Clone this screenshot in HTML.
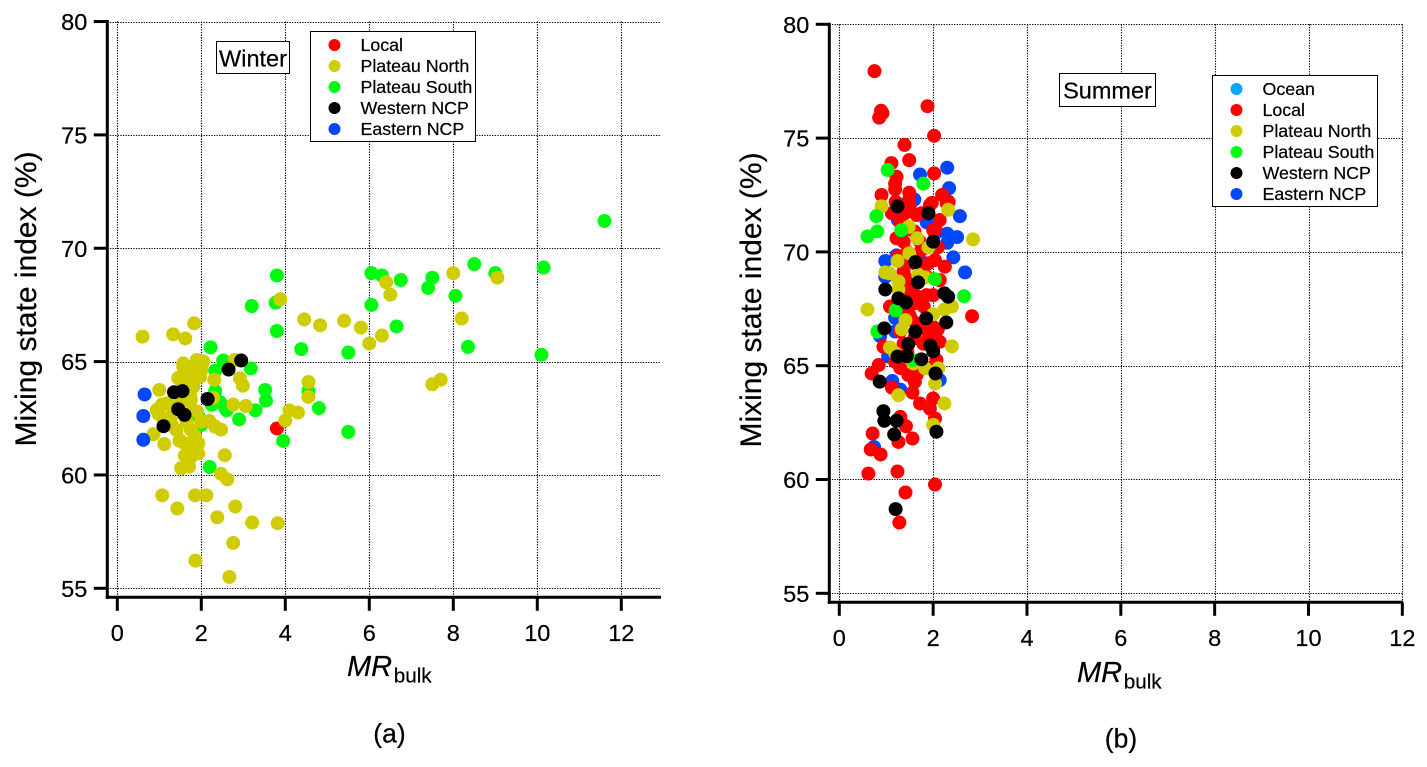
<!DOCTYPE html>
<html lang="en">
<head>
<meta charset="utf-8">
<title>Mixing state index vs MR bulk</title>
<style>
html,body{margin:0;padding:0;background:#fff;width:1427px;height:767px;overflow:hidden}
svg{display:block}
text{font-family:"Liberation Sans",Arial,sans-serif;fill:#000;stroke:#000;stroke-width:.22px}
</style>
</head>
<body>
<svg id="chart" width="1427" height="767" viewBox="0 0 1427 767" xmlns="http://www.w3.org/2000/svg"></svg>
<script>
const xTickLabels = [0, 2, 4, 6, 8, 10, 12];
const yTickLabels = [55, 60, 65, 70, 75, 80];

const winterLocalX = [3.8];
const winterLocalY = [62.05];
const winterSouthX = [11.6,10.15,10.1,9.0,8.5,8.05,8.35,7.5,7.4,6.75,6.3,6.05,6.05,6.65,5.5,5.5,4.38,4.8,4.55,3.95,3.8,3.77,3.8,3.2,2.22,2.52,2.33,3.18,3.52,3.54,2.33,2.45,2.56,2.25,2.9,3.29,1.93,2.2,2.0,2.6];
const winterSouthY = [71.2,69.15,65.3,68.9,69.3,67.9,65.65,68.7,68.25,68.6,68.8,68.9,67.5,66.55,65.4,61.9,65.55,62.95,63.7,61.5,68.8,67.6,66.35,67.45,65.63,65.05,64.6,64.7,63.75,63.28,63.7,63.2,63.0,63.1,62.45,62.85,62.6,60.35,62.2,62.85];
const winterNorthX = [9.05,8.0,8.2,6.4,6.5,6.3,6.0,5.8,5.4,4.83,4.45,3.88,4.55,4.55,4.3,4.1,4.0,7.5,7.7,0.6,1.33,1.62,1.83,2.8,2.92,2.99,2.76,3.06,2.31,2.28,1.0,0.86,1.12,0.98,1.06,0.94,1.18,1.1,1.3,1.49,1.41,1.85,1.65,1.9,1.57,1.89,2.05,1.45,1.65,1.85,1.97,1.61,1.81,1.73,1.77,2.0,1.57,1.81,2.0,2.19,2.33,2.47,1.48,1.93,1.93,1.61,1.73,1.52,1.71,2.56,2.47,2.62,1.07,1.85,2.12,1.43,2.81,2.38,3.21,3.82,2.76,1.86,2.67,1.55,1.75,1.5,1.65,1.9,1.3,1.75,1.6,1.8,1.68];
const winterNorthY = [68.7,68.9,66.9,68.5,67.95,66.15,65.8,66.5,66.8,66.6,66.86,67.75,64.1,63.44,62.75,62.85,62.4,64.0,64.2,66.1,66.2,66.02,66.69,65.07,64.26,63.94,63.1,63.04,64.2,63.4,63.75,61.8,61.36,62.7,63.1,62.87,63.16,62.43,62.65,61.54,61.98,61.7,62.35,61.4,64.77,65.07,65.0,64.27,64.48,64.55,64.33,64.04,63.89,63.53,64.77,64.63,64.92,64.18,62.35,62.38,62.13,62.0,61.51,61.4,60.95,60.85,60.73,60.3,60.37,60.87,60.05,59.8,59.1,59.1,59.1,58.52,58.61,58.13,57.9,57.87,57.0,56.22,55.5,63.8,63.3,63.2,63.0,62.8,62.2,62.0,61.4,61.2,60.4];
const winterWesternX = [1.35,1.55,1.45,1.6,1.1,2.15,2.65,2.95];
const winterWesternY = [63.65,63.7,62.9,62.65,62.15,63.35,64.65,65.05];
const winterEasternX = [0.65,0.62,0.62];
const winterEasternY = [63.55,62.6,61.55];

const summerEasternX = [1.72,2.3,2.34,2.57,2.3,2.51,2.3,2.43,2.68,1.25,1.86,2.04,0.98,1.22,1.76,0.98,1.19,1.19,0.87,1.04,1.13,1.3,2.14,0.74,1.4,1.6];
const summerEasternY = [73.4,73.7,72.8,71.57,70.8,70.65,70.4,69.76,69.1,71.4,71.3,70.8,69.6,69.85,69.55,68.9,67.1,66.5,66.3,65.4,64.33,63.95,64.37,61.43,72.1,72.3];
const summerOceanX = [1.58];
const summerOceanY = [68.5];
const summerLocalX = [0.75,0.89,0.92,0.85,1.88,2.02,1.39,1.49,1.11,2.02,1.22,1.19,1.19,0.9,1.49,1.49,2.19,2.33,1.97,1.12,1.40,1.65,1.93,2.29,2.14,2.0,1.22,1.37,1.75,2.04,2.25,1.37,1.51,1.86,2.14,1.86,1.68,2.0,1.08,1.40,1.58,2.0,1.65,1.37,1.79,0.94,2.14,0.84,0.69,1.12,1.47,1.61,1.56,1.72,1.93,2.0,2.04,1.3,1.42,1.26,1.56,0.71,0.67,0.88,0.62,1.24,2.04,1.41,1.28,1.19,2.07,2.83,1.45,1.75,1.55,1.3,1.6,1.9,1.3,1.5,1.7,1.45,1.25,1.6,1.9,1.75,1.35,1.55,1.8,1.5,1.85,2.1,1.3,1.6,1.45,1.7,1.95,1.65,1.3,1.5,1.75,2.05,2.1,1.2];
const summerLocalY = [77.94,76.2,76.1,75.9,76.4,75.1,74.7,74.03,73.9,73.45,73.3,73.0,72.75,72.5,72.6,72.3,72.5,72.2,72.15,71.7,71.7,71.62,72.06,72.13,71.4,70.96,70.6,70.45,70.08,69.64,69.35,69.13,68.76,68.91,68.76,68.1,68.03,68.1,67.6,67.3,67.73,66.7,66.85,65.97,65.97,65.83,66.05,65.03,64.66,64.04,64.59,64.29,63.82,63.34,63.12,63.56,62.68,62.75,62.34,61.65,61.8,62.02,61.32,61.1,60.26,60.35,59.78,59.43,58.11,65.17,65.25,67.17,69.7,69.2,67.0,68.3,70.9,66.3,71.3,71.0,70.5,70.0,69.8,69.5,69.5,69.0,68.5,68.2,67.6,67.2,66.6,66.6,66.5,66.2,65.6,65.2,64.9,64.6,64.9,72.0,71.7,71.0,70.2,72.2];
const summerNorthX = [0.9,2.32,1.48,1.66,2.85,1.9,1.49,1.24,0.98,1.07,1.26,1.26,1.68,1.83,0.6,2.4,2.24,2.0,1.41,1.33,2.4,1.08,1.19,1.58,1.83,2.11,2.04,1.26,2.24,2.0];
const summerNorthY = [72.0,71.85,71.1,70.6,70.55,70.2,69.94,69.6,69.1,69.06,68.7,68.35,69.0,68.88,67.47,67.6,67.47,67.26,67.0,66.6,65.85,65.8,65.55,65.1,64.88,64.88,64.22,63.7,63.34,62.4];
const summerSouthX = [1.03,1.79,0.79,0.81,0.6,1.32,2.04,2.66,1.2,0.81,1.57];
const summerSouthY = [73.6,73.0,71.57,70.9,70.68,70.95,68.8,68.05,67.43,66.5,65.25];
const summerWesternX = [1.24,1.9,2.0,1.62,1.68,0.98,2.24,2.32,1.26,1.42,1.85,2.28,0.96,1.62,1.47,1.94,2.0,1.24,1.44,1.75,2.05,0.86,0.94,0.96,1.22,1.17,2.07,1.2];
const summerWesternY = [72.0,71.7,70.45,69.55,68.66,68.35,68.18,68.03,67.96,67.78,67.08,66.9,66.64,66.5,65.95,65.88,65.63,65.4,65.42,65.28,64.66,64.3,63.0,62.58,62.58,61.98,62.1,58.7];

const colorOcean = '#00a6ff';
const colorLocal = '#ff0000';
const colorNorth = '#cfcc00';
const colorSouth = '#00fb10';
const colorWestern = '#000000';
const colorEastern = '#0047ff';

const SVG_NS = 'http://www.w3.org/2000/svg';
const svg = document.getElementById('chart');

function make(tag, attrs, parent, content) {
  const el = document.createElementNS(SVG_NS, tag);
  for (const k in attrs) el.setAttribute(k, attrs[k]);
  if (content !== undefined) el.textContent = content;
  parent.appendChild(el);
  return el;
}

function drawPanel(p) {
  const g = make('g', {}, svg);
  
  
  const sx = v => p.x0 + v * p.xUnit;
  const sy = v => p.y55 - (v - 55) * p.yUnit;

  xTickLabels.forEach(t => {
    const line = make('line', {x1: Math.round(sx(t)) + 0.5, x2: Math.round(sx(t)) + 0.5, y1: sy(80), y2: p.spineY, stroke: '#000', 'stroke-width': 1.1, 'stroke-dasharray': '1.3 1.3'}, g);
    
    
  });
  yTickLabels.forEach(t => {
    const line = make('line', {x1: p.spineX, x2: p.right, y1: Math.round(sy(t)) + 0.5, y2: Math.round(sy(t)) + 0.5, stroke: '#000', 'stroke-width': 1.1, 'stroke-dasharray': '1.3 1.3'}, g);
    
    
  });

  p.series.forEach(s => {
    s.xs.forEach((xv, i) => {
      const dot = make('circle', {cx: sx(xv), cy: sy(s.ys[i]), r: 7, fill: s.color}, g);
      
      
    });
  });

  const ySpine = make('line', {x1: p.spineX, x2: p.spineX, y1: sy(80) - 1.5, y2: p.spineY + 1.5, stroke: '#000', 'stroke-width': 3}, g);
  
  
  const xSpine = make('line', {x1: p.spineX - 1.5, x2: p.right, y1: p.spineY, y2: p.spineY, stroke: '#000', 'stroke-width': 3}, g);
  
  

  xTickLabels.forEach(t => {
    const tick = make('line', {x1: sx(t), x2: sx(t), y1: p.spineY, y2: p.spineY + 13.5, stroke: '#000', 'stroke-width': 3}, g);
    
    
    const label = make('text', {x: sx(t), y: p.xLabelY, 'text-anchor': 'middle', 'font-size': 23.5}, g, String(t));
    
    
  });
  yTickLabels.forEach(t => {
    const tick = make('line', {x1: p.spineX - 13.5, x2: p.spineX, y1: sy(t), y2: sy(t), stroke: '#000', 'stroke-width': 3}, g);
    
    
    const label = make('text', {x: p.spineX - 20, y: sy(t) + 8.5, 'text-anchor': 'end', 'font-size': 23.5}, g, String(t));
    
    
  });

  const yTitle = make('text', {transform: 'translate(' + p.yTitleX + ',' + p.yTitleY + ') rotate(-90)', 'text-anchor': 'middle', 'font-size': 30}, g, 'Mixing state index (%)');
  
  

  const xTitle = make('text', {x: p.mrX, y: p.mrY, 'font-size': 29, 'font-style': 'italic'}, g, 'MR');
  
  
  const xSub = make('text', {x: p.mrX + 46.7, y: p.mrY + 6.3, 'font-size': 20.7}, g, 'bulk');
  
  

  const caption = make('text', {x: p.capX, y: p.capY, 'text-anchor': 'middle', 'font-size': 26.5}, g, p.caption);
  
  

  const seasonBox = make('rect', {x: p.seasonBox[0], y: p.seasonBox[1], width: p.seasonBox[2], height: p.seasonBox[3], fill: '#fff', stroke: '#000', 'stroke-width': 1}, g);
  
  
  const seasonText = make('text', {x: p.seasonBox[0] + p.seasonBox[2] / 2, y: p.seasonBox[1] + 25, 'text-anchor': 'middle', 'font-size': 23.5}, g, p.season);
  
  

  const legend = make('g', {}, g);
  
  
  const legendBox = make('rect', {x: p.legend[0], y: p.legend[1], width: p.legend[2], height: p.legend[3], fill: '#fff', stroke: '#000', 'stroke-width': 1}, legend);
  
  
  p.legendEntries.forEach((e, i) => {
    const yy = p.legendFirstY + i * 21;
    const mark = make('circle', {cx: p.legend[0] + 24, cy: yy, r: 6, fill: e[1]}, legend);
    
    
    const txt = make('text', {x: p.legend[0] + 50, y: yy + 6, 'font-size': 17.8}, legend, e[0]);
    
    
  });
}

drawPanel({
  name: 'winter', x0: 117.3, xUnit: 42, y55: 588.3, yUnit: 22.67,
  spineX: 107.3, spineY: 597.3, right: 661, xLabelY: 640.8,
  yTitleX: 36, yTitleY: 299, mrX: 347, mrY: 676,
  capX: 389.5, capY: 742.5, caption: '(a)', season: 'Winter',
  seasonBox: [216.5, 41.5, 73, 32],
  legend: [310.5, 31.5, 165, 110], legendFirstY: 45,
  legendEntries: [['Local', colorLocal], ['Plateau North', colorNorth], ['Plateau South', colorSouth], ['Western NCP', colorWestern], ['Eastern NCP', colorEastern]],
  series: [
    {key: 'local', xs: winterLocalX, ys: winterLocalY, color: colorLocal},
    {key: 'plateau-south', xs: winterSouthX, ys: winterSouthY, color: colorSouth},
    {key: 'plateau-north', xs: winterNorthX, ys: winterNorthY, color: colorNorth},
    {key: 'western-ncp', xs: winterWesternX, ys: winterWesternY, color: colorWestern},
    {key: 'eastern-ncp', xs: winterEasternX, ys: winterEasternY, color: colorEastern}
  ]
});

drawPanel({
  name: 'summer', x0: 839.3, xUnit: 46.92, y55: 593.3, yUnit: 22.76,
  spineX: 829.3, spineY: 602.3, right: 1403, xLabelY: 646,
  yTitleX: 761, yTitleY: 300, mrX: 1077, mrY: 682,
  capX: 1121, capY: 747.5, caption: '(b)', season: 'Summer',
  seasonBox: [1059.5, 73.5, 96, 33],
  legend: [1212.5, 75.5, 165, 131], legendFirstY: 89,
  legendEntries: [['Ocean', colorOcean], ['Local', colorLocal], ['Plateau North', colorNorth], ['Plateau South', colorSouth], ['Western NCP', colorWestern], ['Eastern NCP', colorEastern]],
  series: [
    {key: 'eastern-ncp', xs: summerEasternX, ys: summerEasternY, color: colorEastern},
    {key: 'ocean', xs: summerOceanX, ys: summerOceanY, color: colorOcean},
    {key: 'local', xs: summerLocalX, ys: summerLocalY, color: colorLocal},
    {key: 'plateau-north', xs: summerNorthX, ys: summerNorthY, color: colorNorth},
    {key: 'plateau-south', xs: summerSouthX, ys: summerSouthY, color: colorSouth},
    {key: 'western-ncp', xs: summerWesternX, ys: summerWesternY, color: colorWestern}
  ]
});
</script>
</body>
</html>
